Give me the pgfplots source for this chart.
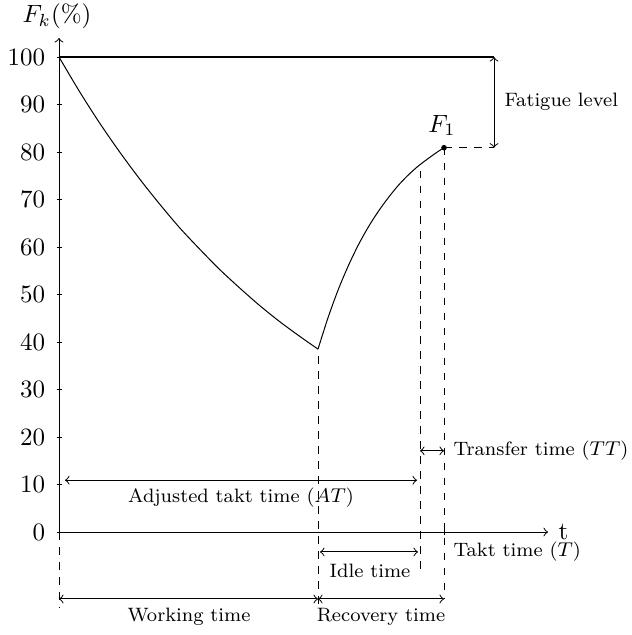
\documentclass[border=0pt]{standalone}
\usepackage{pgfplots}
\pgfplotsset{compat=1.18}
\newcommand\ann{\fontsize{7.75pt}{9pt}\selectfont}
\begin{document}
\begin{tikzpicture}
\begin{axis}[
  scale only axis, width=195.6pt, height=197.6pt,
  xmin=0, xmax=48.9, ymin=0, ymax=104,
  axis lines=left,
  x axis line style={->}, y axis line style={->},
  ytick={0,10,...,100},
  xtick={38.5}, xticklabels={},
  tick align=center, major tick length=2pt,
  tick style={black},
  yticklabel style={xshift=-1pt},
  clip=false,
]
% fatigue (working) curve
\addplot[black, smooth] coordinates {
 (0,100) (2,92.9) (4,86.3) (6,80.2) (8,74.5) (10,69.2) (12,64.2) (14,59.7)
 (16,55.4) (18,51.5) (20,47.8) (22,44.4) (24,41.3) (25.9,38.5)};
% recovery curve
\addplot[black, smooth] coordinates {
 (25.9,38.5) (26.9,45.1) (27.9,50.9) (28.9,55.9) (29.9,60.3) (30.9,64.1)
 (31.9,67.4) (32.9,70.3) (33.9,72.9) (34.9,75.1) (35.9,77.0) (36.9,78.6)
 (37.9,80.1) (38.5,80.9)};
% 100 % level
\addplot[black, thick] coordinates {(0,100) (43.5,100)};
% F1 point
\addplot[black, only marks, mark=*, mark size=0.9pt] coordinates {(38.5,80.9)};
% dashed helper lines
\addplot[black, dashed] coordinates {(38.5,80.9) (43.5,80.9)};
\addplot[black, dashed] coordinates {(0,0) (0,-16)};
\addplot[black, dashed] coordinates {(25.9,37) (25.9,-16)};
\addplot[black, dashed] coordinates {(36.1,76) (36.1,-8.4)};
\addplot[black, dashed] coordinates {(38.5,80.9) (38.5,-14.1)};
% arrows
\addplot[black, <->] coordinates {(43.5,100) (43.5,80.9)};
\addplot[black, <->] coordinates {(0.6,10.9) (35.8,10.9)};
\addplot[black, <->] coordinates {(36.1,17.1) (38.5,17.1)};
\addplot[black, <->] coordinates {(26.1,-4.2) (35.9,-4.2)};
\addplot[black, <->] coordinates {(0,-14.1) (25.9,-14.1)};
\addplot[black, <->] coordinates {(25.9,-14.1) (38.5,-14.1)};
% labels
\node[inner sep=0pt] at (axis cs:-0.2,108.6) {$F_k(\%)$};
\node[anchor=west, inner sep=0pt, xshift=4pt] at (axis cs:48.9,0) {t};
\node at (axis cs:38.3,85.6) {$F_1$};
\node[anchor=west, font=\ann, inner sep=0pt] at (axis cs:44.5,90.5) {Fatigue level};
\node[font=\ann] at (axis cs:18.2,7.2) {Adjusted takt time ($AT$)};
\node[anchor=west, font=\ann, inner sep=0pt] at (axis cs:39.4,17.1) {Transfer time ($TT$)};
\node[anchor=west, font=\ann, inner sep=0pt] at (axis cs:39.4,-4.2) {Takt time ($T$)};
\node[font=\ann] at (axis cs:31.1,-8.2) {Idle time};
\node[font=\ann] at (axis cs:13.0,-17.9) {Working time};
\node[font=\ann] at (axis cs:32.2,-17.9) {Recovery time};
\coordinate (bbbl) at (axis cs:-5.9,-21.68);
\coordinate (bbtr) at (axis cs:57.2,112);
\end{axis}
\pgfresetboundingbox
\path[use as bounding box] (bbbl) rectangle (bbtr);
\end{tikzpicture}
\end{document}
